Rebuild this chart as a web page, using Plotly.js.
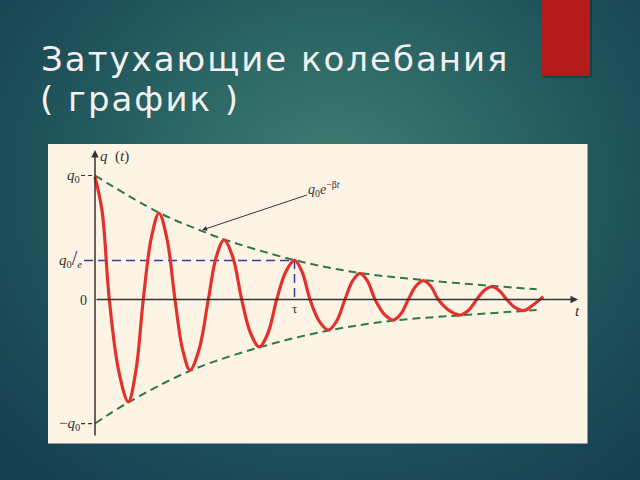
<!DOCTYPE html>
<html>
<head>
<meta charset="utf-8">
<script src="https://cdn.plot.ly/plotly-3.0.1.min.js"></script>
<style>
  html, body { margin: 0; padding: 0; width: 640px; height: 480px; overflow: hidden; }
  body { background: radial-gradient(ellipse 70% 80% at 52% 38%, #3f7f75 0%, #2d6866 35%, #1d5059 70%, #173f52 100%); }
  #chart { width: 640px; height: 480px; }
  g.annotation[data-index="0"] text, g.annotation[data-index="1"] text { letter-spacing: 2px; }
</style>
</head>
<body>
<div id="chart"></div>
<script>
// Damped oscillation q(t): points (t in units, q in units of q0)
const oscT = [0, 0.107, 0.215, 0.358, 0.501, 0.613, 0.726, 0.844, 0.962, 1.082, 1.203, 1.316, 1.429, 1.566, 1.704, 1.822, 1.940, 2.073, 2.206, 2.338, 2.471, 2.601, 2.732, 2.866, 3.000, 3.116, 3.233, 3.371, 3.509, 3.634, 3.759, 3.872, 3.985, 4.098, 4.211, 4.348, 4.486, 4.598, 4.711, 4.824, 4.937, 5.050, 5.162, 5.325, 5.489, 5.614, 5.740, 5.852, 5.965, 6.078, 6.191, 6.315, 6.440, 6.560, 6.741];
const oscQ = [0.99, 0.71, 0, -0.58, -0.824, -0.58, 0, 0.49, 0.695, 0.49, 0, -0.40, -0.569, -0.40, 0, 0.34, 0.480, 0.34, 0, -0.27, -0.381, -0.27, 0, 0.22, 0.315, 0.22, 0, -0.174, -0.246, -0.174, 0, 0.149, 0.211, 0.149, 0, -0.117, -0.165, -0.117, 0, 0.107, 0.152, 0.107, 0, -0.088, -0.125, -0.088, 0, 0.073, 0.103, 0.073, 0, -0.064, -0.090, -0.055, 0.023];

// Envelope  q0 e^{-βt}
const upperT = [0, 0.962, 1.609, 1.940, 3.000, 3.985, 4.937, 5.965, 6.642];
const upperQ = [1.0, 0.70, 0.552, 0.485, 0.318, 0.214, 0.157, 0.110, 0.082];
const lowerT = [0, 0.501, 1.429, 2.471, 3.509, 4.486, 5.489, 6.440, 6.642];
const lowerQ = [-1.0, -0.830, -0.575, -0.386, -0.250, -0.170, -0.128, -0.092, -0.085];

// Time constant τ and the value q0/e
const tauT = 3.0;
const tauQ = 0.315;

const serif = 'Liberation Serif, DejaVu Serif, serif';

const traces = [
  { x: upperT, y: upperQ, mode: 'lines', line: { color: '#2e7a42', width: 2, dash: '8px,5px', shape: 'spline' }, hoverinfo: 'skip' },
  { x: lowerT, y: lowerQ, mode: 'lines', line: { color: '#2e7a42', width: 2, dash: '8px,5px', shape: 'spline' }, hoverinfo: 'skip' },
  { x: [-0.165, tauT, tauT], y: [tauQ, tauQ, 0], mode: 'lines', line: { color: '#3a3a9c', width: 1.5, dash: '9px,5px' }, hoverinfo: 'skip' },
  { x: oscT, y: oscQ, mode: 'lines', line: { color: '#e2322b', width: 3.2, shape: 'spline', smoothing: 1.0 }, hoverinfo: 'skip' }
];

const layout = {
  width: 640, height: 480,
  margin: { l: 0, r: 0, t: 0, b: 0 },
  paper_bgcolor: 'rgba(0,0,0,0)',
  plot_bgcolor: '#fdf4e6',
  showlegend: false,
  xaxis: { domain: [48 / 640, 587.5 / 640], range: [-0.707, 7.406], showgrid: false, zeroline: false, showticklabels: false, ticks: '', fixedrange: true },
  yaxis: { domain: [1 - 443.5 / 480, 1 - 144 / 480], range: [-1.161, 1.254], showgrid: false, zeroline: false, showticklabels: false, ticks: '', fixedrange: true },
  shapes: [
    { type: 'rect', xref: 'paper', yref: 'paper', x0: 543 / 640, x1: 592 / 640, y0: 1 - 78 / 480, y1: 1, fillcolor: 'rgba(0,0,0,0.25)', line: { width: 0 } },
    { type: 'rect', xref: 'paper', yref: 'paper', x0: 541.5 / 640, x1: 590 / 640, y0: 1 - 76 / 480, y1: 1, fillcolor: '#b51b1b', line: { width: 0 } },
    { type: 'line', xref: 'x', yref: 'y', x0: -0.21, x1: 0, y0: 1.0, y1: 1.0, line: { color: '#333', width: 1.2, dash: '4px,3px' } },
    { type: 'line', xref: 'x', yref: 'y', x0: -0.21, x1: 0, y0: -1.0, y1: -1.0, line: { color: '#333', width: 1.2, dash: '4px,3px' } }
  ],
  annotations: [
    { xref: 'paper', yref: 'paper', x: 275 / 640, y: 1 - 59 / 480, xanchor: 'center', yanchor: 'middle', showarrow: false,
      text: 'Затухающие колебания', font: { family: 'DejaVu Sans', size: 34, color: '#f1f1f1' } },
    { xref: 'paper', yref: 'paper', x: 140 / 640, y: 1 - 99 / 480, xanchor: 'center', yanchor: 'middle', showarrow: false,
      text: '( график )', font: { family: 'DejaVu Sans', size: 34, color: '#f1f1f1' } },
    // axes
    { x: 0, y: 1.206, ax: 0, ay: -1.109, axref: 'x', ayref: 'y', text: '', showarrow: true, arrowhead: 2, arrowsize: 1, arrowwidth: 1.5, arrowcolor: '#333' },
    { x: 7.263, y: 0, ax: 0, ay: 0, axref: 'x', ayref: 'y', text: '', showarrow: true, arrowhead: 2, arrowsize: 1, arrowwidth: 1.5, arrowcolor: '#333' },
    // label arrow to envelope
    { x: 1.609, y: 0.56, ax: 3.45, ay: 0.89, axref: 'x', ayref: 'y', text: '<i>q</i><sub>0</sub><i>e</i><sup>−β<i>t</i></sup>', showarrow: true, arrowhead: 2, arrowsize: 1, arrowwidth: 1, arrowcolor: '#333', font: { family: serif, size: 14, color: '#333' } },
    // labels
    { x: 0.3, y: 1.157, text: '<i>q</i>  (<i>t</i>)', showarrow: false, font: { family: serif, size: 15, color: '#333' } },
    { x: -0.2, y: 1.0, xanchor: 'right', text: '<i>q</i><sub>0</sub>', showarrow: false, font: { family: serif, size: 15, color: '#333' } },
    { x: -0.2, y: -1.0, xanchor: 'right', text: '−<i>q</i><sub>0</sub>', showarrow: false, font: { family: serif, size: 15, color: '#333' } },
    { x: -0.09, y: -0.01, xanchor: 'right', text: '0', showarrow: false, font: { family: serif, size: 14, color: '#333' } },
    { x: -0.16, y: 0.33, xanchor: 'right', text: '<i>q</i><sub>0</sub><span style="font-size:20px">/</span><sub><i>e</i></sub>', showarrow: false, font: { family: serif, size: 15, color: '#333' } },
    { x: tauT, y: -0.075, text: 'τ', showarrow: false, font: { family: serif, size: 13, color: '#333' } },
    { x: 7.26, y: -0.09, text: '<i>t</i>', showarrow: false, font: { family: serif, size: 15, color: '#333' } }
  ]
};

Plotly.newPlot('chart', traces, layout, { staticPlot: true, displayModeBar: false });
</script>
</body>
</html>
